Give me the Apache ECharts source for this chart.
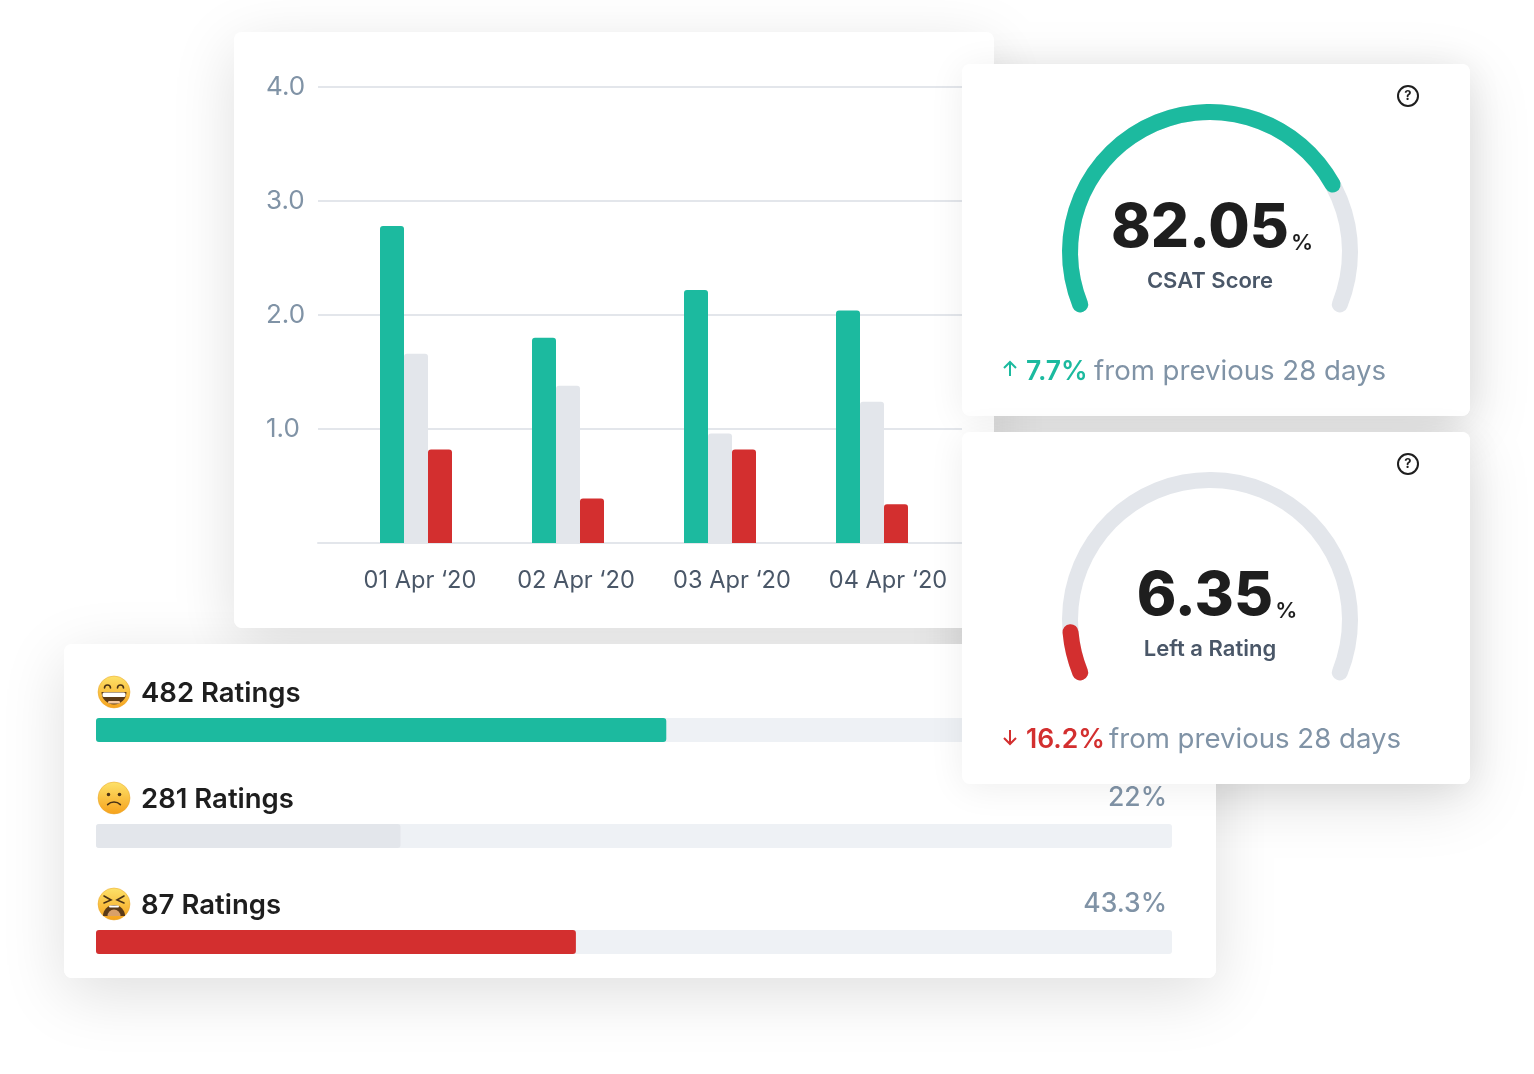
<!DOCTYPE html>
<html>
<head>
<meta charset="utf-8">
<style>
  html, body { margin: 0; padding: 0; background: #fff; }
  #main { width: 1534px; height: 1074px; }
</style>
<script src="https://cdn.jsdelivr.net/npm/echarts@6/dist/echarts.min.js"></script>
</head>
<body>
<div id="main"></div>
<script>
// bar chart
const dayLabels = ['01 Apr ‘20', '02 Apr ‘20', '03 Apr ‘20', '04 Apr ‘20'];
const positiveValues = [2.78, 1.80, 2.22, 2.04];
const neutralValues = [1.66, 1.38, 0.96, 1.24];
const negativeValues = [0.82, 0.39, 0.82, 0.34];

// rating rows
const ratingNames = ['482 Ratings', '281 Ratings', '87 Ratings'];
const ratingFill = [53, 28.3, 44.6];
const ratingPercent = ['', '22%', '43.3%'];

// gauges
const gaugeFill = [77.3, 7.6];
const gaugeScores = ['82.05', '6.35'];
const gaugeNames = ['CSAT Score', 'Left a Rating'];
const gaugeDeltas = ['7.7%', '16.2%'];

const GREEN = '#1cba9f', GREY = '#e3e6eb', RED = '#d32f2f', TRACK = '#eef1f5';
const DARK = '#1e1e1e', SLATE = '#4a5768', MUTED = '#8093a6';
const FONT = 'Inter, "Noto Sans", sans-serif';

//  big shadows sit on the page, under every card face
function shadow(x, y, w, h) {
    return {
        type: 'rect', zlevel: 0, z: -3, silent: true,
        shape: {x: x, y: y, width: w, height: h, r: 8},
        style: {fill: '#fff', shadowColor: 'rgba(0,0,0,0.13)', shadowBlur: 64, shadowOffsetY: 16}
    };
}

//  faint: true leaves a light edge on the card underneath
function face(x, y, w, h, zlevel, faint) {
    const style = {fill: '#fff'};
    if (faint) {
        style.shadowColor = 'rgba(0,0,0,0.07)';
        style.shadowBlur = 36;
        style.shadowOffsetY = 4;
    }
    return {
        type: 'rect', zlevel: zlevel, z: -1, silent: true,
        shape: {x: x, y: y, width: w, height: h, r: 8},
        style: style
    };
}

function label(x, y, text, font, fill, align, zlevel) {
    return {
        type: 'text', zlevel: zlevel, z: 20, x: x, y: y, silent: true,
        style: {text: text, font: font, fill: fill, align: align, verticalAlign: 'middle'}
    };
}

//  emoji faces are drawn, no colour emoji font here
function emoji(cy, kind) {
    const head = {
        type: 'circle', shape: {cx: 0, cy: 0, r: 16},
        style: {
            fill: {
                type: 'linear', x: 0, y: 0, x2: 0, y2: 1,
                colorStops: [{offset: 0, color: '#fde26a'}, {offset: 1, color: '#f6a21c'}]
            },
            stroke: '#e9a52b', lineWidth: 0.5
        }
    };
    const ink = {stroke: '#4a3216', lineWidth: 1.6, fill: null, lineCap: 'round'};
    let parts = [];
    if (kind === 0) {
        parts = [
            {type: 'arc', shape: {cx: -6.5, cy: -4, r: 3, startAngle: Math.PI, endAngle: 0, clockwise: true}, style: ink},
            {type: 'arc', shape: {cx: 6.5, cy: -4, r: 3, startAngle: Math.PI, endAngle: 0, clockwise: true}, style: ink},
            {type: 'sector', shape: {cx: 0, cy: 0, r: 12.5, startAngle: 0, endAngle: Math.PI, clockwise: true}, style: {fill: '#5b3a17'}},
            {type: 'rect', shape: {x: -11.5, y: 0.5, width: 23, height: 4.5, r: 1.5}, style: {fill: '#fff'}},
            {type: 'rect', shape: {x: -6, y: 9, width: 12, height: 2.5, r: 1.2}, style: {fill: '#f3c9a0'}}
        ];
    } else if (kind === 1) {
        parts = [
            {type: 'circle', shape: {cx: -5.5, cy: -3.5, r: 1.8}, style: {fill: '#4a3216'}},
            {type: 'circle', shape: {cx: 5.5, cy: -3.5, r: 1.8}, style: {fill: '#4a3216'}},
            {type: 'arc', shape: {cx: 0, cy: 13, r: 9, startAngle: Math.PI * 1.25, endAngle: Math.PI * 1.75, clockwise: true}, style: ink}
        ];
    } else {
        parts = [
            {type: 'polyline', shape: {points: [[-10, -8], [-3, -4], [-10, -1]]}, style: ink},
            {type: 'polyline', shape: {points: [[10, -8], [3, -4], [10, -1]]}, style: ink},
            {type: 'sector', shape: {cx: 0, cy: 12, r: 11, startAngle: Math.PI, endAngle: 0, clockwise: true}, style: {fill: '#5b3a17'}},
            {type: 'sector', shape: {cx: 0, cy: 12, r: 6.5, startAngle: Math.PI, endAngle: 0, clockwise: true}, style: {fill: '#d9a06a'}},
            {type: 'rect', shape: {x: -5, y: 1.5, width: 10, height: 2, r: 1}, style: {fill: '#fff'}}
        ];
    }
    const children = [head].concat(parts).map(function (el, i) {
        el.zlevel = 1;
        el.z = 20 + i;
        el.silent = true;
        return el;
    });
    return {type: 'group', x: 114, y: cy, children: children};
}

function helpIcon(cy) {
    return [
        {
            type: 'circle', zlevel: 2, z: 20, silent: true, shape: {cx: 1408, cy: cy, r: 10},
            style: {fill: '#fff', stroke: DARK, lineWidth: 2}
        },
        label(1408, cy + 0.5, '?', '700 13px ' + FONT, DARK, 'center', 2)
    ];
}

function arrow(y, up, color) {
    const tip = up ? y - 7 : y + 7;
    const back = up ? y - 1 : y + 1;
    const tail = up ? y + 7 : y - 7;
    const line = {stroke: color, lineWidth: 2, fill: null};
    return [
        {type: 'line', zlevel: 2, z: 20, silent: true, shape: {x1: 1010, y1: tip, x2: 1010, y2: tail}, style: line},
        {type: 'polyline', zlevel: 2, z: 20, silent: true, shape: {points: [[1004, back], [1010, tip], [1016, back]]}, style: line}
    ];
}

function gaugeSeries(i, centerY, color, shiftX) {
    return {
        type: 'gauge', zlevel: 2, z: 5,
        center: [1210, centerY], radius: 148,
        startAngle: 202, endAngle: -22, min: 0, max: 100,
        axisLine: {roundCap: true, lineStyle: {width: 16, color: [[1, GREY]]}},
        progress: {show: true, roundCap: true, width: 16, itemStyle: {color: color}},
        pointer: {show: false}, axisTick: {show: false}, splitLine: {show: false}, axisLabel: {show: false},
        title: {offsetCenter: [0, 29], fontFamily: 'Inter', fontWeight: 600, fontSize: 22, color: SLATE},
        detail: {
            offsetCenter: [shiftX, -23],
            formatter: function () { return '{v|' + gaugeScores[i] + '}{p|%}'; },
            rich: {
                v: {fontFamily: 'Inter', fontWeight: 800, fontSize: 60, color: DARK, lineHeight: 70},
                p: {fontFamily: 'Inter', fontWeight: 600, fontSize: 22, color: DARK, verticalAlign: 'bottom', lineHeight: 70, padding: [0, 0, 10, 2]}
            }
        },
        data: [{value: gaugeFill[i], name: gaugeNames[i]}]
    };
}

const graphicElements = [
    shadow(234, 32, 760, 596),
    shadow(64, 644, 1152, 334),
    shadow(962, 64, 508, 352),
    shadow(962, 432, 508, 352),
    face(234, 32, 760, 596, 0, false),
    face(64, 644, 1152, 334, 1, false),
    face(962, 64, 508, 352, 2, true),
    face(962, 432, 508, 352, 2, true)
];
ratingNames.forEach(function (name, i) {
    const y = 692 + i * 106;
    graphicElements.push(emoji(y, i));
    graphicElements.push(label(141, y + 2, name, '600 27.5px ' + FONT, DARK, 'left', 1));
    if (ratingPercent[i]) {
        graphicElements.push(label(1167, y, ratingPercent[i], '500 26.5px ' + FONT, MUTED, 'right', 1));
    }
});
[96, 464].forEach(function (y) { graphicElements.push.apply(graphicElements, helpIcon(y)); });
graphicElements.push.apply(graphicElements, arrow(369, true, GREEN));
graphicElements.push.apply(graphicElements, arrow(737, false, RED));
graphicElements.push(
    label(1026, 372, gaugeDeltas[0], '600 26.5px ' + FONT, GREEN, 'left', 2),
    label(1094, 372, 'from previous 28 days', '400 27.6px ' + FONT, MUTED, 'left', 2),
    label(1026, 740, gaugeDeltas[1], '600 26.5px ' + FONT, RED, 'left', 2),
    label(1109, 740, 'from previous 28 days', '400 27.6px ' + FONT, MUTED, 'left', 2)
);

const myChart = echarts.init(document.getElementById('main'));
myChart.setOption({
    animation: false,
    graphic: {elements: graphicElements},
    grid: [
        //  gridlines and y labels
        {left: 318, top: 87, width: 644, height: 456},
        //  bars
        {left: 340, top: 87, width: 608, height: 456},
        //  day labels
        {left: 342, top: 87, width: 624, height: 456},
        //  rating rows
        {left: 96, top: 677, width: 1076, height: 318}
    ],
    xAxis: [
        {
            gridIndex: 0, type: 'category', data: [], zlevel: 0,
            axisLine: {lineStyle: {color: GREY, width: 2}}, axisTick: {show: false}, axisLabel: {show: false}
        },
        {gridIndex: 1, type: 'category', data: dayLabels, show: false},
        {
            gridIndex: 2, type: 'category', data: dayLabels, zlevel: 0,
            axisLine: {show: false}, axisTick: {show: false},
            axisLabel: {color: SLATE, fontFamily: 'Inter', fontSize: 23.6, margin: 26, interval: 0}
        },
        {gridIndex: 3, type: 'value', min: 0, max: 100, show: false}
    ],
    yAxis: [
        {
            gridIndex: 0, type: 'value', min: 0, max: 4, interval: 1, zlevel: 0,
            axisLine: {show: false}, axisTick: {show: false},
            axisLabel: {
                color: MUTED, fontFamily: 'Inter', fontSize: 26, align: 'left', margin: 52,
                formatter: function (v) { return v === 0 ? '' : v.toFixed(1); }
            },
            splitLine: {lineStyle: {color: GREY, width: 2}}
        },
        {gridIndex: 1, type: 'value', min: 0, max: 4, interval: 1, show: false},
        {gridIndex: 2, type: 'value', min: 0, max: 4, interval: 1, show: false},
        {gridIndex: 3, type: 'category', inverse: true, data: ratingNames, show: false}
    ],
    series: [
        {
            type: 'bar', xAxisIndex: 1, yAxisIndex: 1, zlevel: 0, z: 3, data: positiveValues,
            barWidth: 24, barGap: 0, itemStyle: {color: GREEN, borderRadius: [3, 3, 0, 0]}
        },
        {
            type: 'bar', xAxisIndex: 1, yAxisIndex: 1, zlevel: 0, z: 3, data: neutralValues,
            barWidth: 24, barGap: 0, itemStyle: {color: GREY, borderRadius: [3, 3, 0, 0]}
        },
        {
            type: 'bar', xAxisIndex: 1, yAxisIndex: 1, zlevel: 0, z: 3, data: negativeValues,
            barWidth: 24, barGap: 0, itemStyle: {color: RED, borderRadius: [3, 3, 0, 0]}
        },
        {
            type: 'bar', xAxisIndex: 3, yAxisIndex: 3, zlevel: 1, z: 3, barWidth: 24,
            showBackground: true, backgroundStyle: {color: TRACK, borderRadius: 3},
            itemStyle: {borderRadius: 3},
            data: ratingFill.map(function (v, i) {
                return {value: v, itemStyle: {color: [GREEN, GREY, RED][i]}};
            })
        },
        gaugeSeries(0, 252, GREEN, 2),
        gaugeSeries(1, 620, RED, 7)
    ]
});
</script>
</body>
</html>
